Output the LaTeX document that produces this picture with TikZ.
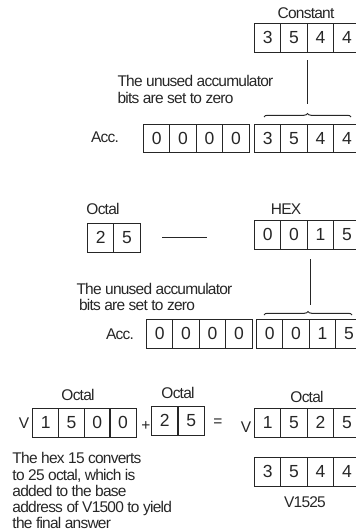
\documentclass[tikz,border=0pt]{standalone}
\usepackage{fontspec}
\setmainfont[LetterSpace=-5]{Liberation Sans}
\newfontfamily\digitfont{Liberation Sans}
\usetikzlibrary{decorations.pathreplacing}
\begin{document}
\begin{tikzpicture}[x=1pt,y=-1pt,
  line width=1pt,
  cell/.style={draw=black!85,rectangle,minimum width=26.4pt,minimum height=28.5pt,inner sep=0pt,font=\digitfont\fontsize{17.5}{19}\selectfont,anchor=north west,text=black!85},
  lbl/.style={inner sep=0pt,font=\fontsize{15.5}{17}\selectfont,text=black!85},
  para/.style={inner sep=0pt,font=\fontsize{15.5}{17}\selectfont,text=black!85,align=left,anchor=north west},
  conn/.style={draw=black!85,line width=1pt},
  brc/.style={draw=black!85,line width=1pt,decorate,decoration={brace,amplitude=3.5pt}}]
\useasboundingbox (0,0) rectangle (356,531);
\clip (0,0) rectangle (356,531);
% ---------- Part 1
\node[lbl] (constL) at (306,13) {Constant};
\foreach \d [count=\i from 0] in {3,5,4,4}
  \node[cell] (k\i) at (254+26.4*\i,23) {\d};
\node[para] (txt1) at (117,74.5) {The unused accumulator\\bits are set to zero};
\coordinate (b1a) at (264,117);
\coordinate (b1b) at (351,117);
\draw[brc] (b1a) -- (b1b);
\coordinate (l1t) at (307,60);
\coordinate (l1b) at (307,104);
\draw[conn] (l1t) -- (l1b);
\node[lbl] (acc1) at (105,137) {Acc.};
\foreach \d [count=\i from 0] in {0,0,0,0}
  \node[cell] (a\i) at (143+26.4*\i,123.5) {\d};
\foreach \d [count=\i from 0] in {3,5,4,4}
  \node[cell] (ar\i) at (254+26.4*\i,123.5) {\d};
% ---------- Part 2
\node[lbl] (octL) at (103,209) {Octal};
\foreach \d [count=\i from 0] in {2,5}
  \node[cell] (o\i) at (87+26.4*\i,223) {\d};
\coordinate (h1) at (162,237);
\coordinate (h2) at (207,237);
\draw[conn] (h1) -- (h2);
\node[lbl] (hexL) at (286,209) {HEX};
\foreach \d [count=\i from 0] in {0,0,1,5}
  \node[cell] (h\i) at (254+26.4*\i,220) {\d};
\coordinate (l2t) at (310,259);
\coordinate (l2b) at (310,305);
\draw[conn] (l2t) -- (l2b);
\node[para,font=\fontsize{15.5}{16.5}\selectfont] (txt2) at (76,282.5) {The unused accumulator\\\hspace{2.5pt}bits are set to zero};
\coordinate (b2a) at (264,315);
\coordinate (b2b) at (352,315);
\draw[brc] (b2a) -- (b2b);
\node[lbl] (acc2) at (120,334) {Acc.};
\foreach \d [count=\i from 0] in {0,0,0,0}
  \node[cell] (c\i) at (146+26.4*\i,319) {\d};
\foreach \d [count=\i from 0] in {0,0,1,5}
  \node[cell] (cr\i) at (256+26.4*\i,319) {\d};
% ---------- Part 3
\node[lbl] (oct1) at (78,395) {Octal};
\node[lbl] (v1) at (24,423) {V};
\foreach \d [count=\i from 0] in {1,5,0,0}
  \node[cell] (v\i) at (32+25.8*\i,408) {\d};
\node[lbl] (plus) at (146,426) {+};
\node[lbl] (oct2) at (178,393) {Octal};
\foreach \d [count=\i from 0] in {2,5}
  \node[cell] (p\i) at (151+26.6*\i,406) {\d};
\node[lbl] (eq) at (218,423) {=};
\node[lbl] (v2) at (246,427) {V};
\node[lbl] (oct3) at (307,397) {Octal};
\foreach \d [count=\i from 0] in {1,5,2,5}
  \node[cell] (r\i) at (254+26.4*\i,408) {\d};
\foreach \d [count=\i from 0] in {3,5,4,4}
  \node[cell] (s\i) at (254+26.4*\i,457) {\d};
\node[lbl] (vres) at (305,502) {V1525};
\node[para,font=\fontsize{15.5}{16.3}\selectfont] (txt3) at (12,452) {The hex 15 converts\\to 25 octal, which is\\added to the base\\address of V1500 to yield\\the final answer};
\end{tikzpicture}
\end{document}
